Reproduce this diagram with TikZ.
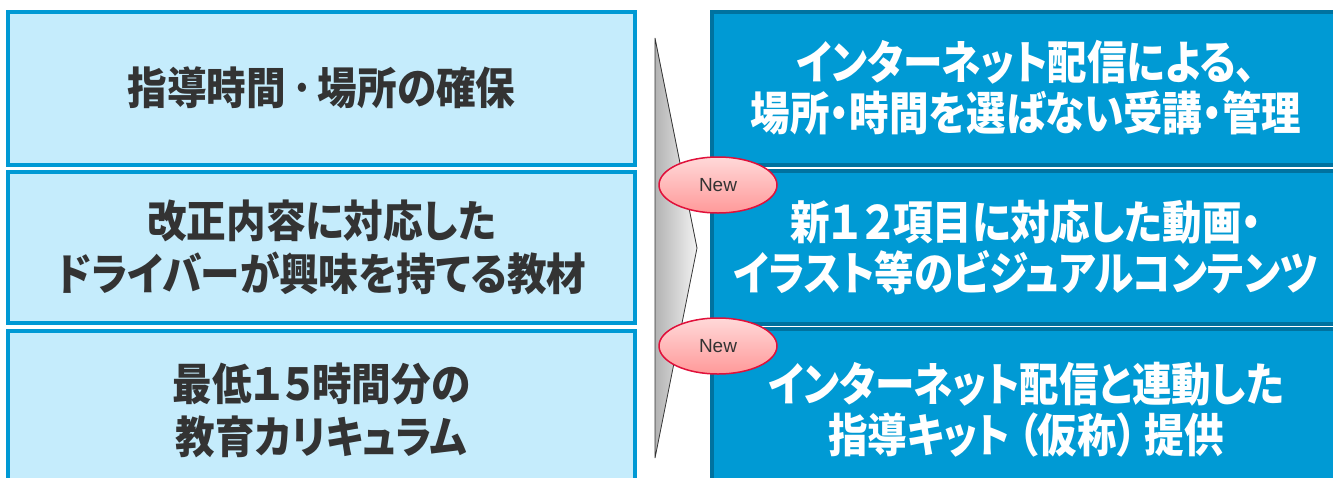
\documentclass[tikz,border=0pt]{standalone}
\usepackage{fontspec}
\usepackage{tikz}
\usetikzlibrary{shapes.geometric}
\newfontfamily\jpfont[FakeStretch=0.9, RawFeature=+palt]{Noto Sans CJK JP}
\newfontfamily\jpnarrow[FakeStretch=0.86, RawFeature=+palt]{Noto Sans CJK JP}
\newfontfamily\latinfont{Liberation Sans}
\definecolor{paleblue}{HTML}{C5ECFC}
\definecolor{edgeblue}{HTML}{0099D4}
\definecolor{deepblue}{HTML}{009AD4}
\definecolor{darkedge}{HTML}{00729F}
\definecolor{textgray}{HTML}{333333}
\definecolor{newred}{HTML}{E0103A}
\tikzset{
	needbox/.style={draw=edgeblue, line width=4pt, fill=paleblue, text=textgray,
		minimum width=627pt, align=center, inner sep=0pt,
		font=\jpfont\bfseries\fontsize{44pt}{53pt}\selectfont},
	answerbox/.style={draw=darkedge, line width=4pt, fill=deepblue, text=white,
		minimum width=628pt, align=center, inner sep=0pt,
		font=\jpnarrow\bfseries\fontsize{46pt}{51pt}\selectfont},
	newbadge/.style={ellipse, draw=newred, line width=1.5pt, top color=red!15,
		bottom color=red!40, minimum width=118pt, minimum height=56pt, text=textgray,
		font=\latinfont\fontsize{19pt}{21pt}\selectfont}
}
\begin{document}
\begin{tikzpicture}[x=1pt, y=-1pt]
			%%%%% FRAME %%%%%
			\useasboundingbox (0,0) rectangle (1333,477);
			\clip (0,0) rectangle (1333,477);
			
			%%%%% LEFT: NEEDS %%%%%
			\node[needbox, minimum height=153pt] (need1) at (321.5, 88) {指導時間\hspace{6pt}･\hspace{6pt}場所の確保};
			\node[needbox, minimum height=151pt] (need2) at (321.5, 247.5) {改正内容に対応した\\ドライバーが興味を持てる教材};
			\node[needbox, minimum height=158pt] (need3) at (321.5, 410) {最低１５時間分の\\教育カリキュラム};
			
			%%%%% RIGHT: ANSWERS %%%%%
			\node[answerbox, minimum height=153pt] (answer1) at (1026, 88) {インターネット配信による、\\場所・時間を選ばない受講・管理};
			\node[answerbox, minimum height=153pt] (answer2) at (1026, 247.5) {新１\hspace{3pt}２項目に対応した動画・\\イラスト等のビジュアルコンテンツ};
			\node[answerbox, minimum height=162pt] (answer3) at (1026, 410) {インターネット配信と連動した\\指導キット\hspace{8pt}（仮称）\hspace{8pt}提供};
			
			%%%%% CHEVRON %%%%%
			\draw[black!80, line width=0.8pt, left color=black!30, right color=black!5]
				(655, 38) -- (697, 248) -- (655, 458) -- cycle;
			
			%%%%% BADGES %%%%%
			\node[newbadge] (new2) at (718, 185) {New};
			\node[newbadge] (new3) at (718, 346) {New};
			
		\end{tikzpicture}
\end{document}
